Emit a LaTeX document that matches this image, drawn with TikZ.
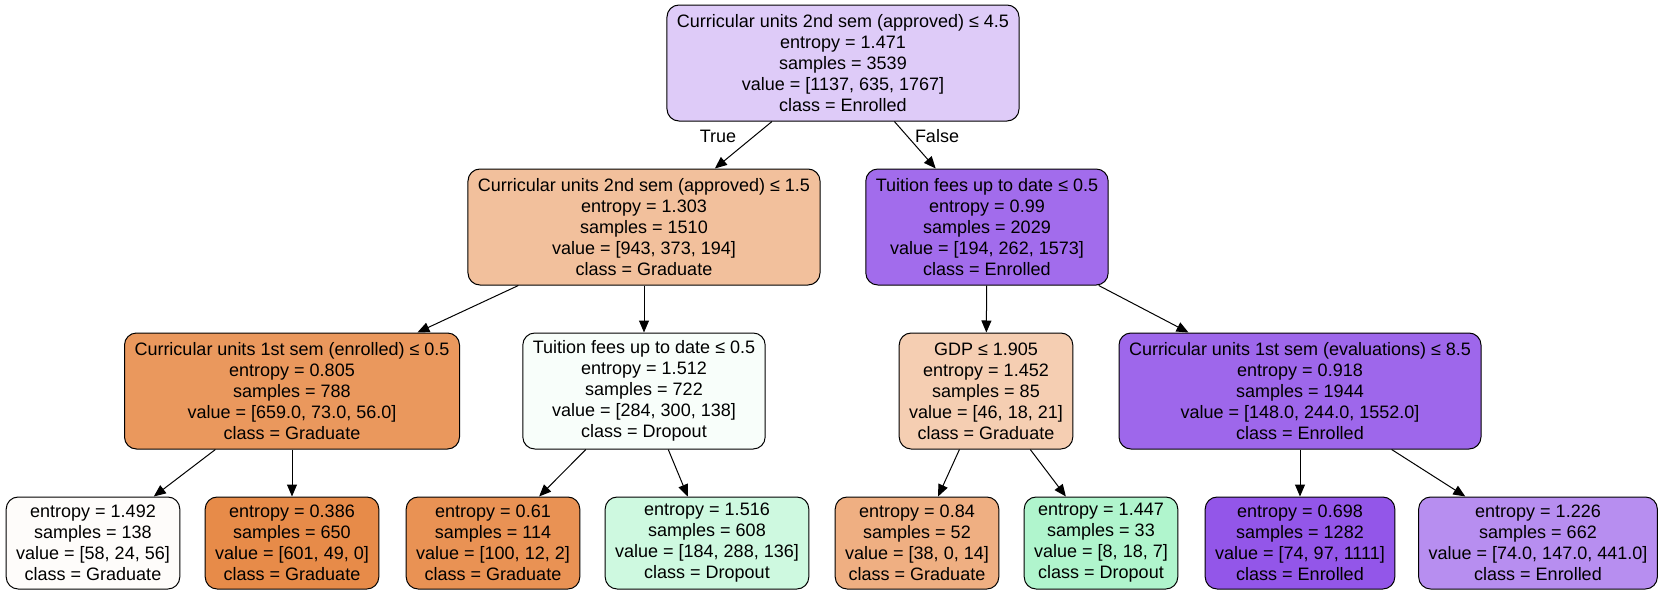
\documentclass[tikz,border=0pt]{standalone}
\usepackage{fontspec}
\setmainfont{Liberation Sans}
\usetikzlibrary{arrows.meta}

\definecolor{enrA}{RGB}{222,203,248}
\definecolor{enrB}{RGB}{162,108,236}
\definecolor{enrC}{RGB}{158,103,235}
\definecolor{enrD}{RGB}{147,86,233}
\definecolor{enrE}{RGB}{183,142,240}
\definecolor{gradA}{RGB}{242,192,156}
\definecolor{gradB}{RGB}{234,152,93}
\definecolor{gradC}{RGB}{245,206,178}
\definecolor{gradD}{RGB}{254,252,250}
\definecolor{gradE}{RGB}{231,139,73}
\definecolor{gradF}{RGB}{233,146,84}
\definecolor{gradG}{RGB}{239,175,130}
\definecolor{dropA}{RGB}{248,254,250}
\definecolor{dropB}{RGB}{206,249,224}
\definecolor{dropC}{RGB}{176,245,205}

\begin{document}
\begin{tikzpicture}
      [%%%%%%%%%%%%%%%%%%%%%%%%%%%%%%
      x=0.75pt, y=-0.75pt,
      box/.style={rectangle,rounded corners=9pt,draw=black,line width=0.75pt,
        align=center,inner xsep=7.5pt,inner ysep=2pt,minimum height=87pt,
        font=\fontsize{13.5}{15.75}\selectfont},
      leaf/.style={box,minimum height=69pt},
      arr/.style={line width=0.75pt,-{Triangle[length=9pt,width=7.5pt]}},
      lbl/.style={font=\fontsize{13.5}{15.75}\selectfont,inner sep=0pt},
      ]%%%%%%%%%%%%%%%%%%%%%%%%%%%%%%
      \useasboundingbox (0,0) rectangle (1664,596);

      % depth 0
      \node[box,fill=enrA ] (root) at (843,63){Curricular units 2nd sem (approved) ≤ 4.5\\entropy = 1.471\\samples = 3539\\value = [1137, 635, 1767]\\class = Enrolled};
      % depth 1
      \node[box,fill=gradA] (n1) at (644,227){Curricular units 2nd sem (approved) ≤ 1.5\\entropy = 1.303\\samples = 1510\\value = [943, 373, 194]\\class = Graduate};
      \node[box,fill=enrB ] (n2) at (987,227){Tuition fees up to date ≤ 0.5\\entropy = 0.99\\samples = 2029\\value = [194, 262, 1573]\\class = Enrolled};
      % depth 2
      \node[box,fill=gradB] (n3) at (292,391){Curricular units 1st sem (enrolled) ≤ 0.5\\entropy = 0.805\\samples = 788\\value = [659.0, 73.0, 56.0]\\class = Graduate};
      \node[box,fill=dropA] (n4) at (644,391){Tuition fees up to date ≤ 0.5\\entropy = 1.512\\samples = 722\\value = [284, 300, 138]\\class = Dropout};
      \node[box,fill=gradC] (n5) at (986,391){GDP ≤ 1.905\\entropy = 1.452\\samples = 85\\value = [46, 18, 21]\\class = Graduate};
      \node[box,fill=enrC ] (n6) at (1300,391){Curricular units 1st sem (evaluations) ≤ 8.5\\entropy = 0.918\\samples = 1944\\value = [148.0, 244.0, 1552.0]\\class = Enrolled};
      % leaves
      \node[leaf,fill=gradD] (l1) at (93,543){entropy = 1.492\\samples = 138\\value = [58, 24, 56]\\class = Graduate};
      \node[leaf,fill=gradE] (l2) at (292,543){entropy = 0.386\\samples = 650\\value = [601, 49, 0]\\class = Graduate};
      \node[leaf,fill=gradF] (l3) at (493,543){entropy = 0.61\\samples = 114\\value = [100, 12, 2]\\class = Graduate};
      \node[leaf,fill=dropB] (l4) at (707,543){entropy = 1.516\\samples = 608\\value = [184, 288, 136]\\class = Dropout};
      \node[leaf,fill=gradG] (l5) at (917,543){entropy = 0.84\\samples = 52\\value = [38, 0, 14]\\class = Graduate};
      \node[leaf,fill=dropC] (l6) at (1101,543){entropy = 1.447\\samples = 33\\value = [8, 18, 7]\\class = Dropout};
      \node[leaf,fill=enrD ] (l7) at (1300,543){entropy = 0.698\\samples = 1282\\value = [74, 97, 1111]\\class = Enrolled};
      \node[leaf,fill=enrE ] (l8) at (1538,543){entropy = 1.226\\samples = 662\\value = [74.0, 147.0, 441.0]\\class = Enrolled};

      \node[lbl] (yes) at (718,136){True};
      \node[lbl] (no) at (937,136){False};

      \draw[arr] (root) -- (n1);
      \draw[arr] (root) -- (n2);
      \draw[arr] (n1) -- (n3);
      \draw[arr] (n1) -- (n4);
      \draw[arr] (n2) -- (n5);
      \draw[arr] (n2) -- (n6);
      \draw[arr] (n3) -- (l1);
      \draw[arr] (n3) -- (l2);
      \draw[arr] (n4) -- (l3);
      \draw[arr] (n4) -- (l4);
      \draw[arr] (n5) -- (l5);
      \draw[arr] (n5) -- (l6);
      \draw[arr] (n6) -- (l7);
      \draw[arr] (n6) -- (l8);
    \end{tikzpicture}
\end{document}
